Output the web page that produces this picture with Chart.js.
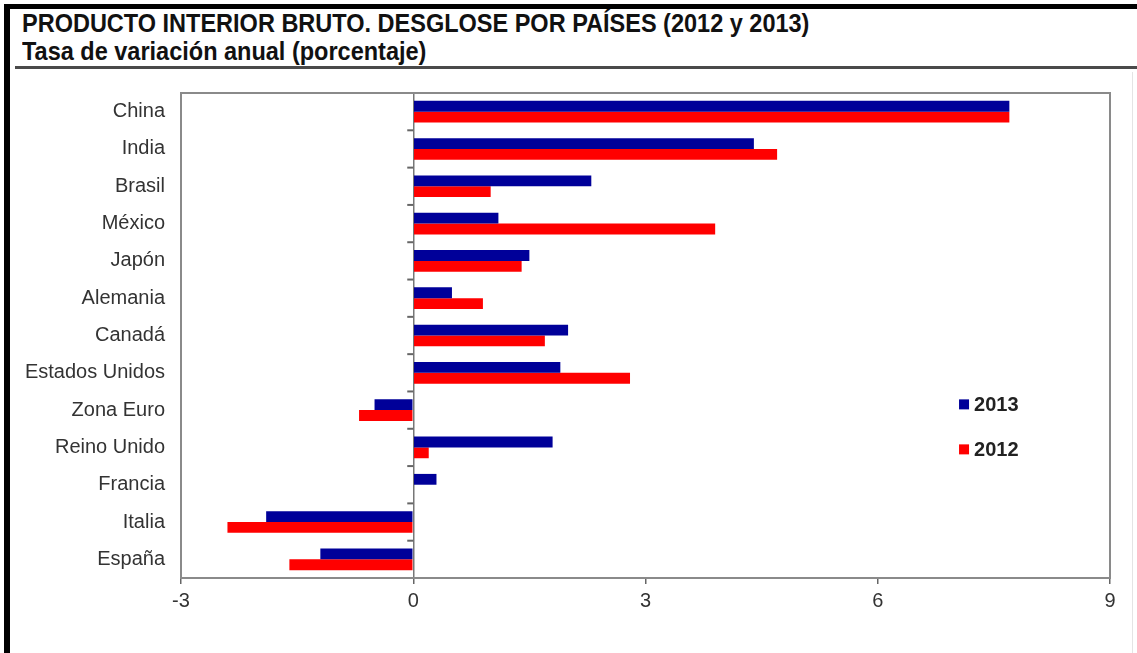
<!DOCTYPE html>
<html>
<head>
<meta charset="utf-8">
<script src="https://cdn.jsdelivr.net/npm/chart.js@4"></script>
<style>
  html, body { margin: 0; padding: 0; background: #fff; }
  #page { position: relative; width: 1137px; height: 653px; overflow: hidden; font-family: "Liberation Sans", Arial, sans-serif; }
  .bar-left { position: absolute; left: 4px; top: 4px; width: 6px; height: 649px; background: #000; }
  .bar-top { position: absolute; left: 4px; top: 4px; width: 1133px; height: 5px; background: #000; }
  .rule { position: absolute; left: 15px; top: 66px; width: 1122px; height: 3px; background: #4a4a4a; }
  .edge { position: absolute; left: 1132px; top: 72px; width: 1px; height: 581px; background: #e4e4e4; }
  .title { position: absolute; left: 22px; font-weight: bold; color: #111; white-space: nowrap;
           line-height: 1; font-size: 25px; transform: scaleX(0.94); transform-origin: 0 0; }
  #t1 { top: 11px; }
  #t2 { top: 39px; }
  #chart { position: absolute; left: 0; top: 70px; }
</style>
</head>
<body>
<div id="page">
  <div class="bar-top"></div>
  <div class="bar-left"></div>
  <div class="title" id="t1">PRODUCTO INTERIOR BRUTO. DESGLOSE POR PAÍSES (2012 y 2013)</div>
  <div class="title" id="t2">Tasa de variación anual (porcentaje)</div>
  <div class="rule"></div>
  <div class="edge"></div>
  <canvas id="chart" width="1137" height="583"></canvas>
</div>
<script>
  const countries = ["China", "India", "Brasil", "México", "Japón", "Alemania", "Canadá",
    "Estados Unidos", "Zona Euro", "Reino Unido", "Francia", "Italia", "España"];
  const gdp2013 = [7.7, 4.4, 2.3, 1.1, 1.5, 0.5, 2.0, 1.9, -0.5, 1.8, 0.3, -1.9, -1.2];
  const gdp2012 = [7.7, 4.7, 1.0, 3.9, 1.4, 0.9, 1.7, 2.8, -0.7, 0.2, 0.0, -2.4, -1.6];
  const xTicks = [-3, 0, 3, 6, 9];

  const BLUE = "#000099";
  const RED = "#ff0000";

  // gray frame round the plot area
  const framePlugin = {
    id: "frame",
    afterDraw(chart) {
      const { ctx, chartArea: a } = chart;
      ctx.save();
      ctx.strokeStyle = "#8a8a8a";
      ctx.lineWidth = 2;
      ctx.strokeRect(a.left, a.top, a.right - a.left, a.bottom - a.top);
      ctx.restore();
    },
  };

  // short marks on the zero line between categories
  const catTicksPlugin = {
    id: "catTicks",
    afterDatasetsDraw(chart) {
      const { ctx, scales } = chart;
      const x0 = scales.x.getPixelForValue(0);
      ctx.save();
      ctx.strokeStyle = "#666";
      ctx.lineWidth = 2;
      for (let i = 0; i < countries.length - 1; i++) {
        const y = (scales.y.getPixelForValue(i) + scales.y.getPixelForValue(i + 1)) / 2;
        ctx.beginPath();
        ctx.moveTo(x0 - 6, y);
        ctx.lineTo(x0, y);
        ctx.stroke();
      }
      ctx.restore();
    },
  };

  // legend stacked inside the plot, lower right
  const boxLegendPlugin = {
    id: "boxLegend",
    afterDraw(chart) {
      const { ctx, chartArea: a } = chart;
      const left = a.left + (a.right - a.left) * 0.8375;
      const top = a.top + (a.bottom - a.top) * 0.642;
      ctx.save();
      ctx.font = "bold 20px 'Liberation Sans', Arial, sans-serif";
      ctx.textBaseline = "middle";
      chart.data.datasets.forEach((ds, i) => {
        const y = top + i * 45;
        ctx.fillStyle = ds.backgroundColor;
        ctx.fillRect(left, y - 5, 10, 10);
        ctx.fillStyle = "#222";
        ctx.fillText(ds.label, left + 15, y + 1);
      });
      ctx.restore();
    },
  };

  new Chart(document.getElementById("chart"), {
    type: "bar",
    data: {
      labels: countries,
      datasets: [
        { label: "2013", data: gdp2013, backgroundColor: BLUE, categoryPercentage: 0.58, barPercentage: 1 },
        { label: "2012", data: gdp2012, backgroundColor: RED, categoryPercentage: 0.58, barPercentage: 1 },
      ],
    },
    options: {
      indexAxis: "y",
      responsive: false,
      animation: false,
      devicePixelRatio: 1,
      layout: { padding: { left: 10, right: 27, top: 23, bottom: 35 } },
      plugins: { legend: { display: false }, tooltip: { enabled: false } },
      scales: {
        x: {
          min: xTicks[0],
          max: xTicks[xTicks.length - 1],
          afterBuildTicks: (scale) => { scale.ticks = xTicks.map((v) => ({ value: v })); },
          afterFit: (scale) => { scale.height = 40; },
          border: { display: false },
          grid: {
            color: (c) => (c.tick && c.tick.value === 0 ? "#777" : "transparent"),
            lineWidth: 1.5,
            tickColor: "#666",
            tickLength: 6,
          },
          ticks: {
            color: "#333",
            padding: 5,
            font: { family: "'Liberation Sans', Arial, sans-serif", size: 20 },
          },
        },
        y: {
          afterFit: (scale) => {
            scale.width = 171;
            scale.paddingTop = 0;
            scale.paddingBottom = 0;
          },
          border: { display: false },
          grid: { display: false, drawTicks: false },
          ticks: {
            color: "#333",
            padding: 16,
            font: { family: "'Liberation Sans', Arial, sans-serif", size: 20 },
          },
        },
      },
    },
    plugins: [framePlugin, catTicksPlugin, boxLegendPlugin],
  });
</script>
</body>
</html>
